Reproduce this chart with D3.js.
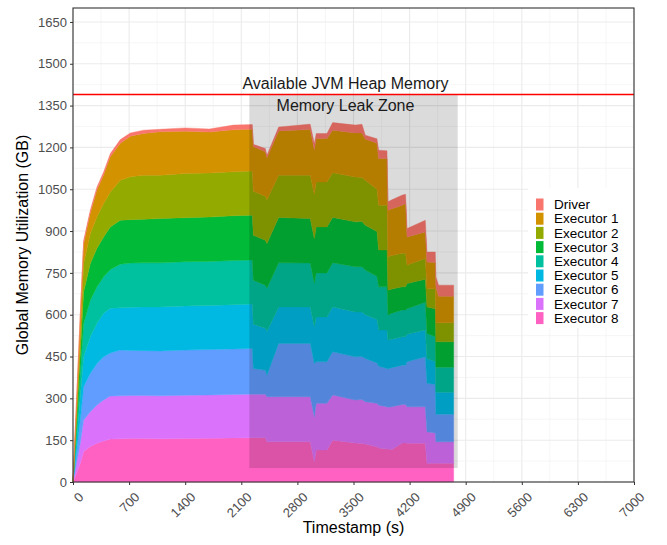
<!DOCTYPE html>
<html>
<head>
<meta charset="utf-8">
<script src="https://cdn.jsdelivr.net/npm/d3@7"></script>
<style>
  body { margin: 0; background: #fff; }
  svg { font-family: "Liberation Sans", Arial, Helvetica, sans-serif; }
</style>
</head>
<body>
<svg width="667" height="545"></svg>
<script>
// values (GB per series, seconds)
const timestamps = [0, 91, 133, 216, 299, 382, 466, 590, 715, 880, 1086, 1400, 1700, 2000, 2238, 2250, 2400, 2420, 2566, 2940, 2960, 3011, 3035, 3169, 3240, 3523, 3606, 3647, 3793, 3814, 3918, 3930, 3979, 4110, 4150, 4168, 4396, 4417, 4521, 4528, 4562, 4750];
const executor8 = [0, 67, 109, 127, 139, 147, 154, 155, 156, 156, 155, 156, 157, 158, 159, 159, 159, 144, 144, 144, 144, 73, 115, 115, 150, 140, 138, 136, 126, 122, 118, 118, 117, 140, 140, 139, 139, 67, 67, 67, 67, 67];
const executor7 = [0, 72, 113, 125, 137, 147, 154, 154, 154, 154, 154, 155, 155, 156, 156, 156, 156, 162, 162, 162, 162, 161, 167, 167, 162, 154, 158, 152, 156, 153, 152, 150, 153, 138, 138, 131, 131, 113, 109, 77, 77, 77];
const executor6 = [0, 83, 120, 138, 149, 155, 155, 164, 162, 161, 161, 162, 163, 163, 164, 92, 86, 77, 191, 191, 191, 191, 149, 149, 155, 155, 154, 155, 145, 140, 137, 137, 140, 141, 141, 161, 179, 174, 174, 99, 99, 99];
const executor5 = [0, 84, 107, 131, 144, 156, 160, 152, 155, 157, 158, 158, 158, 159, 159, 159, 150, 157, 131, 131, 131, 132, 161, 161, 161, 161, 160, 157, 156, 130, 138, 104, 102, 102, 102, 99, 96, 89, 81, 79, 79, 79];
const executor4 = [0, 84, 120, 131, 131, 131, 139, 156, 158, 158, 158, 159, 158, 158, 158, 158, 155, 155, 158, 157, 157, 155, 158, 158, 158, 162, 162, 160, 155, 155, 155, 90, 93, 96, 96, 91, 100, 90, 90, 90, 90, 90];
const executor3 = [0, 71, 113, 132, 138, 143, 153, 158, 156, 156, 159, 158, 159, 161, 161, 161, 161, 160, 163, 160, 160, 161, 165, 165, 163, 161, 162, 161, 160, 132, 132, 89, 87, 83, 83, 91, 82, 95, 100, 91, 91, 91];
const executor2 = [0, 60, 102, 107, 113, 120, 125, 143, 154, 158, 155, 158, 158, 158, 158, 158, 158, 157, 151, 155, 155, 159, 161, 161, 160, 161, 158, 161, 152, 161, 161, 120, 120, 120, 120, 66, 75, 66, 71, 68, 68, 68];
const executor1 = [0, 72, 71, 74, 97, 103, 127, 133, 145, 150, 156, 152, 147, 150, 150, 160, 159, 151, 159, 164, 164, 160, 156, 156, 153, 158, 160, 148, 165, 167, 167, 167, 168, 173, 180, 101, 95, 95, 95, 130, 95, 95];
const driver = [0, 9, 12, 10, 10, 10, 11, 13, 12, 12, 9, 12, 11, 17, 17, 8, 12, 9, 14, 19, 19, 22, 18, 18, 27, 28, 31, 14, 16, 30, 28, 30, 32, 36, 32, 30, 42, 36, 38, 35, 40, 40];

const seriesNames = ["Driver", "Executor 1", "Executor 2", "Executor 3", "Executor 4", "Executor 5", "Executor 6", "Executor 7", "Executor 8"];
const seriesValues = [driver, executor1, executor2, executor3, executor4, executor5, executor6, executor7, executor8];
const seriesColors = ["#F8766D", "#D39200", "#93AA00", "#00BA38", "#00C19F", "#00B9E3", "#619CFF", "#DB72FB", "#FF61C3"];

const xTicks = [0, 700, 1400, 2100, 2800, 3500, 4200, 4900, 5600, 6300, 7000];
const yTicks = [0, 150, 300, 450, 600, 750, 900, 1050, 1200, 1350, 1500, 1650];

const heapLimit = 1390;
const leakStart = 2200, leakEnd = 4800, leakBottom = 50;

const margin = {top: 8, right: 33, bottom: 63, left: 73};
const width = 667 - margin.left - margin.right;
const height = 545 - margin.top - margin.bottom;

const svg = d3.select('svg');
const g = svg.append('g').attr('transform', 'translate(' + margin.left + ',' + margin.top + ')');

const x = d3.scaleLinear().domain([0, 7000]).range([0, width]);
const y = d3.scaleLinear().domain([0, 1700]).range([height, 0]);

// table for the stack
const table = timestamps.map(function(t, i) {
  const row = {t: t};
  seriesNames.forEach(function(name, k) { row[name] = seriesValues[k][i]; });
  return row;
});

// grid
const xMinor = xTicks.slice(0, -1).map(d => d + 350);
const yMinor = yTicks.map(d => d + 75).filter(d => d < 1700);
g.append('g').selectAll('line').data(xMinor).enter().append('line')
  .attr('x1', d => x(d)).attr('x2', d => x(d)).attr('y1', 0).attr('y2', height)
  .style('stroke', '#f0f0f0').style('stroke-width', 0.6);
g.append('g').selectAll('line').data(yMinor).enter().append('line')
  .attr('y1', d => y(d)).attr('y2', d => y(d)).attr('x1', 0).attr('x2', width)
  .style('stroke', '#f0f0f0').style('stroke-width', 0.6);
g.append('g').selectAll('line').data(xTicks).enter().append('line')
  .attr('x1', d => x(d)).attr('x2', d => x(d)).attr('y1', 0).attr('y2', height)
  .style('stroke', '#ebebeb').style('stroke-width', 1.1);
g.append('g').selectAll('line').data(yTicks).enter().append('line')
  .attr('y1', d => y(d)).attr('y2', d => y(d)).attr('x1', 0).attr('x2', width)
  .style('stroke', '#ebebeb').style('stroke-width', 1.1);

// stacked areas, Executor 8 at the bottom, Driver on top
const stackKeys = seriesNames.slice().reverse();
const color = d3.scaleOrdinal().domain(seriesNames).range(seriesColors);
const stacked = d3.stack().keys(stackKeys)(table);

const area = d3.area()
  .x(d => x(d.data.t))
  .y0(d => y(d[0]))
  .y1(d => y(d[1]));

g.append('g').selectAll('path').data(stacked).enter().append('path')
  .attr('d', area)
  .attr('fill', d => color(d.key))
  .attr('stroke', d => color(d.key))
  .attr('stroke-width', 0.4);

// memory leak zone
g.append('rect')
  .attr('x', x(leakStart)).attr('width', x(leakEnd) - x(leakStart))
  .attr('y', y(heapLimit)).attr('height', y(leakBottom) - y(heapLimit))
  .attr('fill', '#000').attr('fill-opacity', 0.14);

// heap limit line
g.append('line')
  .attr('x1', 0).attr('x2', width)
  .attr('y1', y(heapLimit)).attr('y2', y(heapLimit))
  .style('stroke', '#ff0000').style('stroke-width', 1.4);

g.append('text')
  .attr('x', x(3400)).attr('y', y(1430)).attr('dy', '0.35em')
  .attr('text-anchor', 'middle').style('font-size', '16px').style('fill', '#1a1a1a')
  .text('Available JVM Heap Memory');
g.append('text')
  .attr('x', x(3400)).attr('y', y(1350)).attr('dy', '0.35em')
  .attr('text-anchor', 'middle').style('font-size', '16px').style('fill', '#1a1a1a')
  .text('Memory Leak Zone');

// axes
const yAxis = g.append('g')
  .call(d3.axisLeft(y).tickValues(yTicks).tickFormat(d3.format('d')).tickSize(3).tickPadding(3));
const xAxis = g.append('g').attr('transform', 'translate(0,' + height + ')')
  .call(d3.axisBottom(x).tickValues(xTicks).tickFormat(d3.format('d')).tickSize(3));
[yAxis, xAxis].forEach(function(a) {
  a.select('.domain').remove();
  a.selectAll('line').style('stroke', '#333333');
  a.selectAll('text').style('font-size', '13px').style('fill', '#4d4d4d');
  a.attr('font-family', null);
});
xAxis.selectAll('text')
  .attr('y', 0).attr('dy', null)
  .attr('transform', 'translate(4,9) rotate(-45)')
  .style('text-anchor', 'end')
  .attr('dominant-baseline', 'hanging');

// axis titles
svg.append('text')
  .attr('x', margin.left + width / 2).attr('y', 533)
  .attr('text-anchor', 'middle').style('font-size', '16px')
  .text('Timestamp (s)');
svg.append('text')
  .attr('transform', 'translate(28,' + (margin.top + height / 2) + ') rotate(-90)')
  .attr('text-anchor', 'middle').style('font-size', '16px')
  .text('Global Memory Utilization (GB)');

// legend
const legend = svg.append('g').attr('transform', 'translate(536,198)');
legend.append('rect')
  .attr('x', -8).attr('y', -10).attr('width', 105).attr('height', 140)
  .attr('fill', '#fff');
const items = legend.selectAll('g.item').data(seriesNames).enter().append('g')
  .attr('class', 'item')
  .attr('transform', (d, i) => 'translate(0,' + (i * 14.2) + ')');
items.append('rect')
  .attr('x', 0).attr('y', 0.5).attr('width', 7.5).attr('height', 12)
  .attr('fill', d => color(d));
items.append('text')
  .attr('x', 18).attr('y', 6.5).attr('dy', '0.35em')
  .style('font-size', '13.5px')
  .text(d => d);

// panel border
g.append('rect')
  .attr('width', width).attr('height', height)
  .attr('fill', 'none').attr('stroke', '#333333').attr('stroke-width', 1.1);
</script>
</body>
</html>
